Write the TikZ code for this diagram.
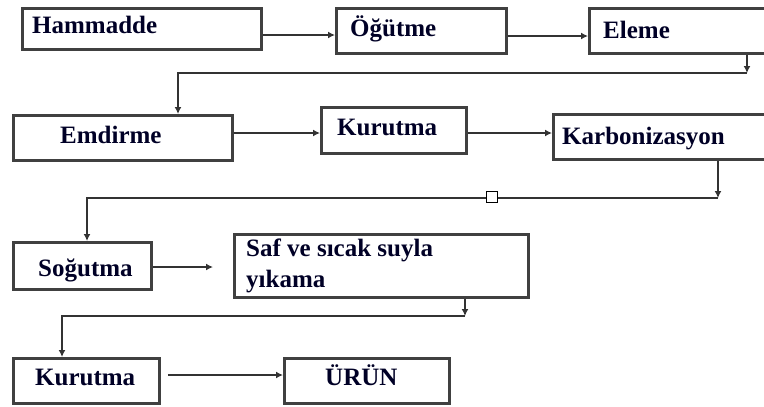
\documentclass[tikz,border=0pt]{standalone}
\usepackage{fontspec}
\setmainfont{Liberation Serif}
\usetikzlibrary{arrows.meta}
\begin{document}
\begin{tikzpicture}[x=1pt,y=-1pt,
  box/.style={draw=black!75,line width=2.8pt,fill=white,rectangle,inner sep=0pt,anchor=north west},
  txt/.style={anchor=base west,inner sep=0pt,font=\bfseries\fontsize{25}{27}\selectfont,text=black!85!blue},
  conn/.style={draw=black!80,line width=2.2pt},
  arr/.style={conn,-{Latex[length=7pt,width=7pt]}},
  sq/.style={draw=black,line width=1.2pt,fill=white,minimum size=11pt,inner sep=0pt}]
\useasboundingbox (0,0) rectangle (764,407);
\clip (0,0) rectangle (764,407);
% boxes
\node[box,minimum width=239pt,minimum height=41pt] (ham) at (21,7) {};
\node[box,minimum width=170pt,minimum height=45pt] (ogu) at (335,7) {};
\node[box,minimum width=190pt,minimum height=45pt] (ele) at (588,7) {};
\node[box,minimum width=219pt,minimum height=45pt] (emd) at (12,114) {};
\node[box,minimum width=145pt,minimum height=46pt] (kur1) at (320,106) {};
\node[box,minimum width=230pt,minimum height=45pt] (kar) at (552,113) {};
\node[box,minimum width=138pt,minimum height=47pt] (sog) at (12,241) {};
\node[box,minimum width=294pt,minimum height=63pt] (saf) at (233,233) {};
\node[box,minimum width=146pt,minimum height=45pt] (kur2) at (12,357) {};
\node[box,minimum width=165pt,minimum height=45pt] (urun) at (283,357) {};
% texts
\node[txt] (hamt) at (32,33) {Hammadde};
\node[txt] (ogut) at (350,36) {Öğütme};
\node[txt] (elet) at (603,38) {Eleme};
\node[txt] (emdt) at (60,143) {Emdirme};
\node[txt] (kur1t) at (337,135) {Kurutma};
\node[txt] (kart) at (562,144) {Karbonizasyon};
\node[txt] (sogt) at (38,276) {Soğutma};
\node[txt] (saft1) at (246,256) {Saf ve sıcak suyla};
\node[txt] (saft2) at (246,287) {yıkama};
\node[txt] (kur2t) at (35,385) {Kurutma};
\node[txt] (urunt) at (325,385) {ÜRÜN};
% bend coordinates
\coordinate (e1) at (747,73);
\coordinate (k1) at (718,198);
\coordinate (s1) at (465,316);
% connectors
\draw[arr] (ham.east |- 0,35) -- (ogu.west |- 0,35);
\draw[arr] (ogu.east |- 0,36) -- (ele.west |- 0,36);
\draw[arr] (ele.south -| e1) -- (e1);
\draw[arr] (e1) -| (emd.north -| 178,0);
\draw[arr] (emd.east |- 0,133) -- (kur1.west |- 0,133);
\draw[arr] (kur1.east |- 0,133) -- (kar.west |- 0,133);
\draw[arr] (kar.south -| k1) -- (k1);
\draw[arr] (k1) -| (sog.north -| 87,0);
\node[sq] (sqr) at (492,197) {};
\draw[arr,shorten >=20pt] (sog.east |- 0,267) -- (saf.west |- 0,267);
\draw[arr] (saf.south -| s1) -- (s1);
\draw[arr] (s1) -| (kur2.north -| 62,0);
\draw[arr,shorten <=7pt] (kur2.east |- 0,375) -- (urun.west |- 0,375);
\end{tikzpicture}
\end{document}
